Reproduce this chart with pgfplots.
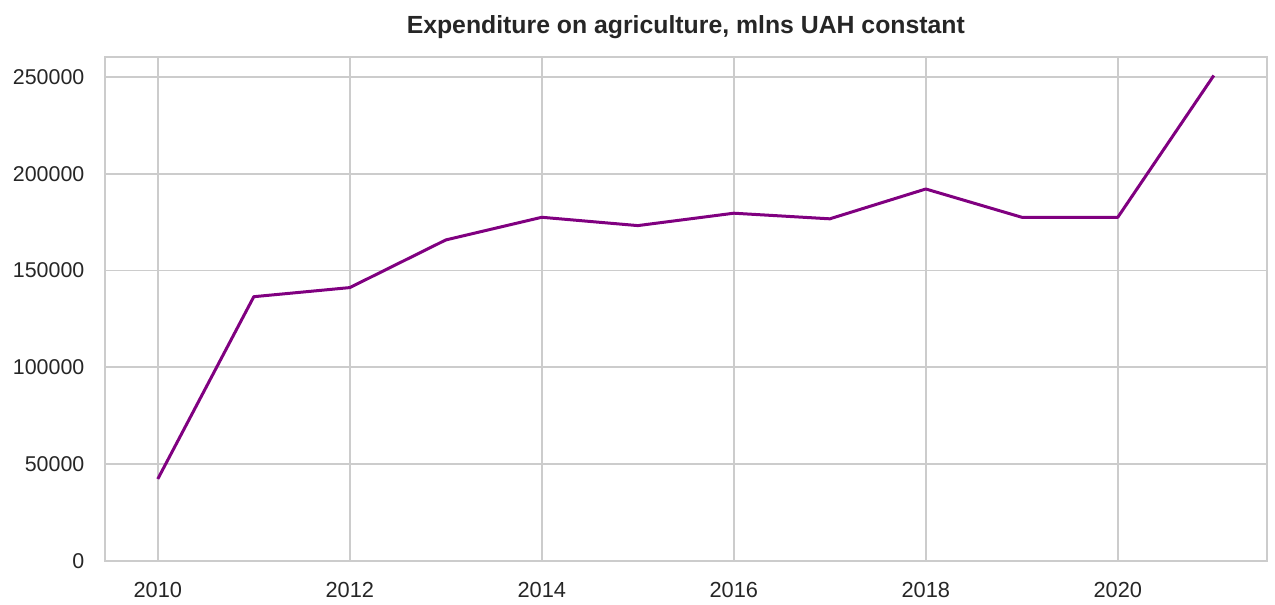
\documentclass[border=0pt]{standalone}
\usepackage{fontspec}
\setmainfont{Liberation Sans}
\usepackage{pgfplots}
\pgfplotsset{compat=1.18}
\definecolor{gridc}{HTML}{CCCCCC}
\definecolor{txt}{HTML}{262626}
\definecolor{lin}{HTML}{800080}
\begin{document}
\begin{tikzpicture}
\begin{axis}[name=ax, scale only axis, width=580.8pt, height=252.2pt,
 xmin=2009.45, xmax=2021.55, ymin=0, ymax=260400,
 xtick={2010,2012,2014,2016,2018,2020},
 ytick={0,50000,100000,150000,200000,250000},
 grid=major, major grid style={gridc, line width=0.9pt},
 axis line style={gridc, line width=1.1pt},
 tick style={draw=none},
 /pgf/number format/assume math mode=true,
 x tick label style={/pgf/number format/1000 sep={}, font=\fontsize{10.9}{13}\selectfont, text=txt, yshift=-7.3pt},
 y tick label style={/pgf/number format/fixed, /pgf/number format/1000 sep={}, font=\fontsize{10.7}{13}\selectfont, text=txt, xshift=-6.8pt},
 scaled y ticks=false,
 title={Expenditure on agriculture, mlns UAH constant},
 title style={at={(0.5,1)}, anchor=base, yshift=5.8pt, font=\fontsize{12.4}{14}\selectfont\bfseries, text=txt},
]
\addplot[lin, line width=1.5pt, line join=round, mark=none] coordinates {
(2010,42400) (2011,136500) (2012,141200) (2013,165800) (2014,177500) (2015,173200)
(2016,179600) (2017,176700) (2018,192100) (2019,177500) (2020,177500) (2021,250700)
};
\end{axis}
\pgfresetboundingbox
\path[use as bounding box] ([xshift=-52.5pt,yshift=-21.5pt]ax.south west) rectangle ([xshift=4.2pt,yshift=28.35pt]ax.north east);
\end{tikzpicture}
\end{document}
